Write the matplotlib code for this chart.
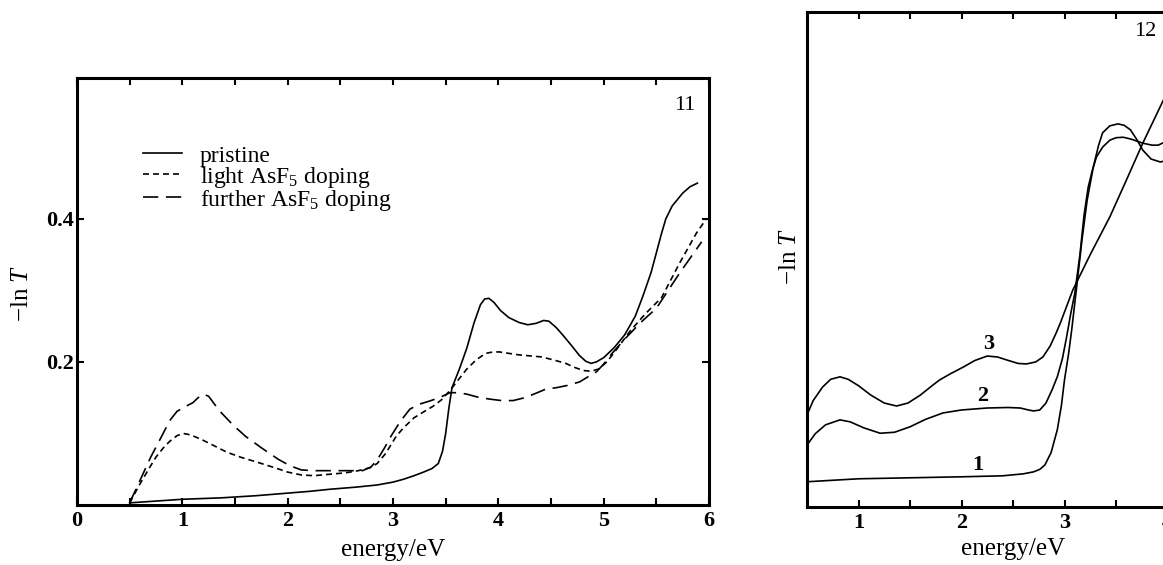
import matplotlib
matplotlib.use("Agg")
import matplotlib.pyplot as plt

# ---------------- data: panel 11 (left) ----------------
E_pristine = [0.50, 0.80, 1.00, 1.37, 1.70, 1.95, 2.20, 2.40, 2.65, 2.85, 3.00, 3.10, 3.20, 3.29, 3.37, 3.43,
              3.47, 3.50, 3.53, 3.56, 3.63, 3.70, 3.77, 3.83, 3.87, 3.91, 3.96, 4.02, 4.10, 4.20, 4.28,
              4.36, 4.43, 4.48, 4.55, 4.61, 4.70, 4.77, 4.83, 4.88, 4.93, 5.00, 5.10, 5.20, 5.30, 5.37,
              5.45, 5.49, 5.55, 5.59, 5.65, 5.75, 5.82, 5.89]
v_pristine = [0.003, 0.006, 0.008, 0.010, 0.013, 0.016, 0.019, 0.022, 0.025, 0.028, 0.032, 0.036, 0.041, 0.046, 0.051, 0.058,
              0.075, 0.100, 0.135, 0.164, 0.190, 0.219, 0.255, 0.280, 0.288, 0.289, 0.283, 0.272, 0.262, 0.255, 0.252,
              0.254, 0.258, 0.257, 0.248, 0.238, 0.222, 0.209, 0.201, 0.198, 0.200, 0.206, 0.220, 0.238, 0.264, 0.291,
              0.325, 0.347, 0.380, 0.400, 0.418, 0.436, 0.445, 0.450]

E_light = [0.50, 0.60, 0.70, 0.75, 0.82, 0.88, 0.95, 1.01, 1.08, 1.19, 1.30, 1.42, 1.55, 1.73, 1.90, 2.00, 2.13,
           2.25, 2.40, 2.55, 2.67, 2.78, 2.85, 2.93, 3.03, 3.10, 3.20, 3.30, 3.38, 3.46, 3.54, 3.62, 3.70,
           3.79, 3.88, 3.95, 4.01, 4.19, 4.41, 4.52, 4.64, 4.73, 4.81, 4.88, 4.95, 5.03, 5.13, 5.25, 5.40,
           5.55, 5.72, 5.88, 5.97]
v_light = [0.003, 0.030, 0.055, 0.067, 0.080, 0.089, 0.097, 0.100, 0.098, 0.091, 0.083, 0.074, 0.067, 0.059, 0.051, 0.046, 0.042,
           0.041, 0.043, 0.045, 0.048, 0.052, 0.058, 0.072, 0.096, 0.108, 0.122, 0.131, 0.138, 0.147, 0.160, 0.175, 0.190,
           0.203, 0.212, 0.214, 0.214, 0.210, 0.207, 0.203, 0.198, 0.192, 0.188, 0.187, 0.190, 0.200, 0.219, 0.243, 0.268,
           0.290, 0.338, 0.380, 0.399]

E_further = [0.50, 0.60, 0.70, 0.80, 0.88, 0.95, 1.02, 1.10, 1.15, 1.20, 1.25, 1.31, 1.37, 1.48, 1.60, 1.75, 1.91,
             2.02, 2.13, 2.25, 2.40, 2.55, 2.71, 2.79, 2.85, 2.92, 2.98, 3.07, 3.16, 3.25, 3.34, 3.44, 3.54,
             3.62, 3.70, 3.80, 3.92, 4.03, 4.14, 4.25, 4.37, 4.45, 4.55, 4.65, 4.77, 4.86, 4.93, 5.00, 5.08,
             5.20, 5.35, 5.50, 5.72, 5.93]
v_further = [0.003, 0.035, 0.067, 0.095, 0.118, 0.131, 0.137, 0.143, 0.150, 0.155, 0.152, 0.140, 0.129, 0.112, 0.096, 0.080, 0.064,
             0.055, 0.049, 0.048, 0.048, 0.048, 0.048, 0.053, 0.063, 0.080, 0.096, 0.117, 0.134, 0.141, 0.145, 0.150, 0.157,
             0.157, 0.155, 0.151, 0.148, 0.146, 0.146, 0.150, 0.157, 0.162, 0.164, 0.167, 0.172, 0.180, 0.186, 0.197, 0.212,
             0.232, 0.255, 0.275, 0.324, 0.368]

labels_left = ["pristine", "light AsF$_5$ doping", "further AsF$_5$ doping"]

# ---------------- data: panel 12 (right), arbitrary units ----------------
E1 = [0.50, 0.75, 1.00, 1.50, 2.00, 2.40, 2.60, 2.70, 2.76, 2.81, 2.87, 2.93, 2.97, 3.00, 3.04, 3.07, 3.12,
      3.17, 3.22, 3.28, 3.33, 3.37, 3.44, 3.52, 3.58, 3.64, 3.70, 3.76, 3.84, 3.93, 3.99, 4.05]
y1 = [0.051, 0.054, 0.057, 0.059, 0.061, 0.063, 0.067, 0.071, 0.076, 0.085, 0.110, 0.156, 0.205, 0.257, 0.310, 0.358, 0.448,
      0.540, 0.620, 0.687, 0.730, 0.756, 0.770, 0.774, 0.771, 0.762, 0.743, 0.721, 0.703, 0.697, 0.700, 0.712]

E2 = [0.50, 0.58, 0.68, 0.82, 0.92, 1.05, 1.21, 1.35, 1.50, 1.65, 1.82, 2.00, 2.25, 2.45, 2.57, 2.65, 2.70,
      2.76, 2.82, 2.88, 2.93, 2.98, 3.02, 3.06, 3.10, 3.15, 3.19, 3.23, 3.27, 3.31, 3.37, 3.44, 3.50,
      3.57, 3.65, 3.76, 3.85, 3.91, 3.97, 4.05]
y2 = [0.125, 0.148, 0.166, 0.176, 0.172, 0.160, 0.149, 0.151, 0.162, 0.177, 0.190, 0.196, 0.200, 0.201, 0.200, 0.196, 0.194,
      0.196, 0.210, 0.237, 0.263, 0.300, 0.343, 0.390, 0.432, 0.510, 0.590, 0.646, 0.680, 0.707, 0.727, 0.741, 0.746,
      0.747, 0.743, 0.735, 0.731, 0.731, 0.737, 0.745]

E3 = [0.50, 0.56, 0.65, 0.73, 0.82, 0.90, 1.00, 1.12, 1.25, 1.37, 1.48, 1.60, 1.72, 1.79, 1.90, 2.02, 2.13,
      2.25, 2.35, 2.44, 2.55, 2.63, 2.72, 2.79, 2.86, 2.92, 2.96, 3.02, 3.08, 3.25, 3.44, 3.60, 3.76, 3.96, 4.10]
y3 = [0.186, 0.215, 0.242, 0.258, 0.263, 0.258, 0.245, 0.226, 0.210, 0.204, 0.210, 0.226, 0.246, 0.257, 0.270, 0.283, 0.296,
      0.305, 0.303, 0.297, 0.290, 0.289, 0.293, 0.303, 0.325, 0.352, 0.372, 0.405, 0.438, 0.510, 0.586, 0.660, 0.735, 0.822, 0.880]

curve_labels_right = ["1", "2", "3"]
curve_label_pos_E = [2.16, 2.21, 2.26]
curve_label_pos_y = [0.085, 0.225, 0.330]

# ---------------- style ----------------
plt.rcParams["font.family"] = ["Liberation Serif", "DejaVu Serif"]
plt.rcParams["mathtext.fontset"] = "custom"
plt.rcParams["mathtext.rm"] = "Liberation Serif"
plt.rcParams["mathtext.it"] = "Liberation Serif:italic"
plt.rcParams["lines.scale_dashes"] = False

W, H = 1163, 565
fig = plt.figure(figsize=(W / 100, H / 100), dpi=100)

def frac_ax(l, t, r, b):
    return [l / W, 1 - b / H, (r - l) / W, (b - t) / H]

spine_w = 2.2
line_w = 1.2
tick_fs = 16
lab_fs = 18
leg_fs = 17

# ---- left axes ----
ax = fig.add_axes(frac_ax(77, 78, 709, 505))
ax.plot(E_pristine, v_pristine, color="black", lw=line_w, ls="-", label=labels_left[0])
ax.plot(E_light, v_light, color="black", lw=line_w, ls=(0, (4.3, 2.9)), label=labels_left[1])
ax.plot(E_further, v_further, color="black", lw=line_w, ls=(0, (11, 5.5)), label=labels_left[2])
ax.set_xlim(0, 6)
ax.set_ylim(0, 0.597)
ax.set_xticks([0, 1, 2, 3, 4, 5, 6])
ax.set_xticks([0.5, 1.5, 2.5, 3.5, 4.5, 5.5], minor=True)
ax.set_yticks([0.2, 0.4])
ax.set_yticklabels(["0.2", "0.4"])
ax.tick_params(which="both", direction="in", top=True, right=True, length=5, width=1.5,
               labelsize=tick_fs)
ax.tick_params(axis="x", pad=4)
ax.tick_params(axis="y", pad=2)
for lbl in ax.get_xticklabels() + ax.get_yticklabels():
    lbl.set_fontweight("bold")
for s in ax.spines.values():
    s.set_linewidth(spine_w)
ax.set_xlabel("energy/eV", fontsize=lab_fs, labelpad=6)
fig.text(22 / W, 1 - 294 / H, r"$-\mathrm{ln}\ T$", rotation=90, fontsize=lab_fs,
         ha="center", va="center")
fig.text(685 / W, 1 - 106 / H, "11", fontsize=tick_fs, ha="center", va="center")
leg = ax.legend(loc="upper left", bbox_to_anchor=((143 - 77) / 632, 1 - (145 - 78) / 427),
                frameon=False, fontsize=leg_fs, handlelength=1.65, handletextpad=0.76,
                labelspacing=-0.08, borderpad=0, borderaxespad=0)

# ---- right axes ----
ax2 = fig.add_axes(frac_ax(807, 12, 807 + 412, 507))
for E, y in [(E1, y1), (E2, y2), (E3, y3)]:
    ax2.plot(E, y, color="black", lw=line_w)
for t, ex, ey in zip(curve_labels_right, curve_label_pos_E, curve_label_pos_y):
    ax2.text(ex, ey, t, fontsize=tick_fs, fontweight="bold", ha="center", va="center")
ax2.set_xlim(0.5, 4.5)
ax2.set_ylim(0, 1)
ax2.set_xticks([1, 2, 3, 4])
ax2.set_xticks([1.5, 2.5, 3.5, 4.5], minor=True)
ax2.set_yticks([])
ax2.tick_params(which="both", direction="in", top=True, length=5, width=1.5,
                labelsize=tick_fs, pad=4)
for lbl in ax2.get_xticklabels():
    lbl.set_fontweight("bold")
for s in ax2.spines.values():
    s.set_linewidth(spine_w)
ax2.set_xlabel("energy/eV", fontsize=lab_fs, labelpad=4)
fig.text(790 / W, 1 - 257 / H, r"$-\mathrm{ln}\ T$", rotation=90, fontsize=lab_fs,
         ha="center", va="center")
fig.text(1145 / W, 1 - 32 / H, "12", fontsize=tick_fs, ha="center", va="center")

fig.savefig("out.png", dpi=100)
